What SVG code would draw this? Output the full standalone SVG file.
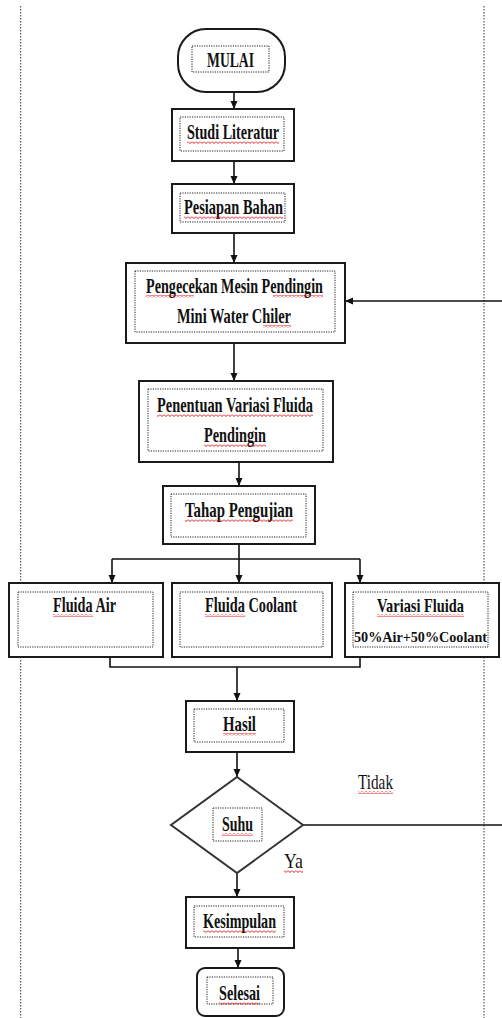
<svg xmlns="http://www.w3.org/2000/svg" width="502" height="1018" viewBox="0 0 502 1018">
<style>
.box{fill:#fff;stroke:#1a1a1a;stroke-width:2}
.inner{fill:none;stroke:#222;stroke-width:1;stroke-dasharray:1.2 1.2}
.page{fill:none;stroke:#333;stroke-width:1;stroke-dasharray:1.5 1.5}
.t{font-family:"Liberation Serif","Times New Roman",serif;font-size:22px;font-weight:bold;fill:#111}
.con{fill:none;stroke:#111;stroke-width:1.6}
.arr{marker-end:url(#ah)}
.wv{fill:url(#wavy)}
</style>
<defs>
<marker id="ah" markerUnits="userSpaceOnUse" markerWidth="9" markerHeight="8" refX="8" refY="3.5" orient="auto">
<path d="M0,0 L8,3.5 L0,7 z" fill="#111"/>
</marker>
<pattern id="wavy" patternUnits="userSpaceOnUse" width="4" height="3">
<path d="M0,0.5 L2,2.5 L4,0.5" fill="none" stroke="#e00000" stroke-width="0.9"/>
</pattern>
</defs>

<rect width="502" height="1018" fill="#fff"/>
<g id="page">
<line class="page" x1="20.7" y1="6" x2="20.7" y2="1018"/>
<line class="page" x1="484" y1="6" x2="484" y2="1018"/>
</g>

<g id="connectors">
<path class="con arr" d="M234,92 V109"/>
<path class="con arr" d="M234,161 V184"/>
<path class="con arr" d="M234,233 V263"/>
<path class="con arr" d="M234,343 V381"/>
<path class="con arr" d="M239,462 V486"/>
<path class="con" d="M239,544 V559 M112,559 H360"/>
<path class="con arr" d="M112,559 V583"/>
<path class="con arr" d="M239,559 V583"/>
<path class="con arr" d="M360,559 V583"/>
<path class="con" d="M110,657 V667 H360 V657"/>
<path class="con arr" d="M237,667 V701"/>
<path class="con arr" d="M237,752 V777"/>
<path class="con arr" d="M237,873 V897"/>
<path class="con arr" d="M238,948 V968"/>
<path class="con arr" d="M303,825 H505 V301 H345"/>
</g>

<g id="n-mulai">
<rect class="box" x="178" y="29" width="107" height="63" rx="28"/>
<rect class="inner" x="192" y="46" width="77" height="26"/>
<text class="t" x="207" y="67" textLength="47" lengthAdjust="spacingAndGlyphs">MULAI</text>
</g>

<g id="n-studi">
<rect class="box" x="172" y="109" width="122" height="52"/>
<rect class="inner" x="180" y="117" width="104" height="34"/>
<text class="t" x="187" y="139" textLength="92" lengthAdjust="spacingAndGlyphs">Studi Literatur</text>
<rect class="wv" x="187" y="141" width="92" height="3"/>
</g>

<g id="n-pesiapan">
<rect class="box" x="172" y="184" width="122" height="49"/>
<rect class="inner" x="180" y="193" width="105" height="29"/>
<text class="t" x="184" y="214" textLength="99" lengthAdjust="spacingAndGlyphs">Pesiapan Bahan</text>
<rect class="wv" x="184" y="216" width="99" height="3"/>
</g>

<g id="n-pengecekan">
<rect class="box" x="126" y="263" width="219" height="80"/>
<rect class="inner" x="135" y="271" width="200" height="61"/>
<text class="t" x="146" y="293" textLength="177" lengthAdjust="spacingAndGlyphs">Pengecekan Mesin Pendingin</text>
<text class="t" x="177" y="323" textLength="114" lengthAdjust="spacingAndGlyphs">Mini Water Chiler</text>
<rect class="wv" x="146" y="295" width="48" height="3"/>
<rect class="wv" x="273" y="295" width="50" height="3"/>
<rect class="wv" x="263" y="325" width="28" height="3"/>
</g>

<g id="n-penentuan">
<rect class="box" x="139" y="381" width="194" height="81"/>
<rect class="inner" x="148" y="389" width="175" height="62"/>
<text class="t" x="157" y="412" textLength="156" lengthAdjust="spacingAndGlyphs">Penentuan Variasi Fluida</text>
<text class="t" x="204" y="442" textLength="62" lengthAdjust="spacingAndGlyphs">Pendingin</text>
<rect class="wv" x="157" y="414" width="156" height="3"/>
<rect class="wv" x="204" y="444" width="62" height="3"/>
</g>

<g id="n-tahap">
<rect class="box" x="163" y="486" width="152" height="58"/>
<rect class="inner" x="171" y="494" width="135" height="43"/>
<text class="t" x="185" y="517" textLength="108" lengthAdjust="spacingAndGlyphs">Tahap Pengujian</text>
<rect class="wv" x="185" y="519" width="108" height="3"/>
</g>

<g id="n-air">
<rect class="box" x="9" y="583" width="154" height="74"/>
<rect class="inner" x="18" y="592" width="135" height="55"/>
<text class="t" x="53" y="612" textLength="63" lengthAdjust="spacingAndGlyphs">Fluida Air</text>
<rect class="wv" x="53" y="614" width="40" height="3"/>
</g>

<g id="n-coolant">
<rect class="box" x="172" y="583" width="160" height="74"/>
<rect class="inner" x="180" y="592" width="143" height="55"/>
<text class="t" x="205" y="612" textLength="92" lengthAdjust="spacingAndGlyphs">Fluida Coolant</text>
<rect class="wv" x="205" y="614" width="40" height="3"/>
</g>

<g id="n-variasi">
<rect class="box" x="345" y="583" width="154" height="74"/>
<rect class="inner" x="353" y="592" width="135" height="55"/>
<text class="t" x="377" y="612" textLength="87" lengthAdjust="spacingAndGlyphs" style="font-size:19px">Variasi Fluida</text>
<rect class="wv" x="377" y="614" width="87" height="3"/>
<text class="t" x="354" y="642" textLength="133" lengthAdjust="spacingAndGlyphs" style="font-size:15px">50%Air+50%Coolant</text>
</g>

<g id="n-hasil">
<rect class="box" x="186" y="701" width="108" height="51"/>
<rect class="inner" x="194" y="709" width="90" height="33"/>
<text class="t" x="223" y="731" textLength="33" lengthAdjust="spacingAndGlyphs">Hasil</text>
<rect class="wv" x="223" y="733" width="33" height="3"/>
</g>

<g id="n-suhu">
<polygon points="237,777 303,825 237,873 171,825" fill="#fff" stroke="#333" stroke-width="2"/>
<rect class="inner" x="213" y="808" width="49" height="33"/>
<text class="t" x="222" y="831" textLength="31" lengthAdjust="spacingAndGlyphs">Suhu</text>
<rect class="wv" x="222" y="833" width="31" height="3"/>
</g>

<g id="labels">
<text class="t" x="358" y="789" textLength="35" lengthAdjust="spacingAndGlyphs" style="font-weight:normal">Tidak</text>
<rect class="wv" x="358" y="791" width="35" height="3"/>
<text class="t" x="284" y="868" textLength="19" lengthAdjust="spacingAndGlyphs" style="font-weight:normal">Ya</text>
<rect class="wv" x="284" y="870" width="19" height="3"/>
</g>

<g id="n-kesimpulan">
<rect class="box" x="186" y="897" width="108" height="51"/>
<rect class="inner" x="194" y="906" width="90" height="31"/>
<text class="t" x="203" y="928" textLength="73" lengthAdjust="spacingAndGlyphs">Kesimpulan</text>
<rect class="wv" x="203" y="930" width="73" height="3"/>
</g>

<g id="n-selesai">
<rect class="box" x="197" y="968" width="87" height="48" rx="8"/>
<rect class="inner" x="207" y="977" width="66" height="27"/>
<text class="t" x="219" y="1000" textLength="41" lengthAdjust="spacingAndGlyphs">Selesai</text>
<rect class="wv" x="219" y="1002" width="41" height="3"/>
</g>
</svg>
